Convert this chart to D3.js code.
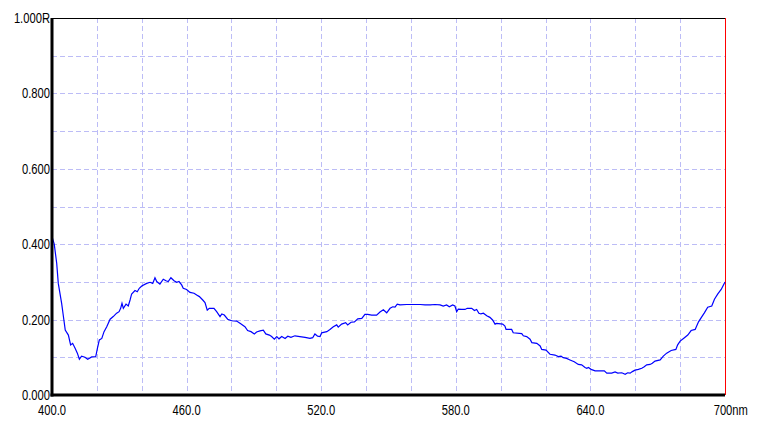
<!DOCTYPE html>
<html>
<head>
<meta charset="utf-8">
<script src="https://cdn.jsdelivr.net/npm/d3@7"></script>
<style>
  html, body { margin: 0; padding: 0; background: #ffffff; }
  svg { display: block; }
  .lbl { font-family: "Liberation Sans", Arial, sans-serif; font-size: 14px; fill: #000; }
</style>
</head>
<body>
<svg id="chart" width="777" height="431"></svg>
<script>
// ---- data ----
const wavelengths = [400,401,402.1,402.8,404.3,405.3,405.9,407.3,408.3,409.2,410.3,411.3,412.2,413.2,414.7,415.9,417.7,419.5,420.4,421.1,422.2,423.2,424.4,425.9,427.3,428.8,429.9,430.6,431.2,431.8,433,434,434.8,435.5,437,438,438.9,440,442.2,443.7,444.9,445.9,446.7,448.1,449.6,450.8,451.8,453,454.4,455.6,456.6,457.8,458.5,460,461.5,463.3,464.5,465.7,467.2,468.2,469.2,470.1,472.2,473.4,474.9,475.7,476.8,478.3,480.1,482.3,483.8,486,487.2,488.7,490.2,491.2,492.7,494.2,495.3,496.9,497.9,499.1,500.2,501.2,502.4,503.9,505.1,506.5,508.3,510.5,512.8,515,516.2,517.2,518.4,519.5,520.2,522.5,523.9,525.4,526.9,527.6,529.1,530.9,531.8,533.3,534.8,536.3,538.1,539.5,540.7,542.5,544.7,546.2,547.7,549.2,550.7,551.9,552.9,553.9,555.1,558.1,561.1,564.1,566.3,568.6,570.7,573,574.4,575.9,577.1,578.6,579.6,580.4,581.1,582.6,584.1,585.1,587.1,588.3,589.3,590.3,591.2,592.3,593.8,595.2,596.4,597.5,598.2,600.9,601.9,602.4,604.9,605.6,609.4,610.1,611.6,613.1,613.9,616.1,617.6,618.3,620.2,622,624.2,625.7,626.9,627.9,629.4,630.9,632.8,634.6,636.1,637.6,638.4,639.1,640.3,642.1,644.3,646.2,647.3,649.5,651,652.2,654,655.5,656.6,657.7,658.7,659.9,661.4,662.9,664,665.1,666.6,667.6,668.8,671.1,672.5,674,676,678.1,678.9,680,681.5,683.4,684.9,686.7,688.2,689.7,690.8,692.3,694.1,695.3,696.8,698.3,700];
const reflectance = [0.420,0.400,0.349,0.296,0.243,0.199,0.172,0.159,0.133,0.137,0.124,0.111,0.095,0.103,0.100,0.095,0.101,0.102,0.128,0.146,0.150,0.168,0.181,0.201,0.208,0.217,0.221,0.230,0.243,0.230,0.241,0.236,0.252,0.268,0.277,0.274,0.283,0.289,0.296,0.299,0.296,0.311,0.301,0.294,0.307,0.303,0.301,0.311,0.303,0.299,0.301,0.292,0.283,0.280,0.272,0.270,0.265,0.261,0.252,0.245,0.225,0.230,0.230,0.221,0.208,0.215,0.212,0.201,0.197,0.196,0.190,0.181,0.171,0.168,0.162,0.167,0.170,0.172,0.162,0.159,0.155,0.148,0.155,0.149,0.155,0.150,0.156,0.153,0.157,0.155,0.153,0.150,0.152,0.162,0.156,0.155,0.165,0.168,0.174,0.181,0.186,0.180,0.188,0.192,0.186,0.193,0.194,0.202,0.203,0.214,0.214,0.212,0.212,0.220,0.226,0.218,0.230,0.234,0.233,0.241,0.239,0.240,0.240,0.240,0.239,0.239,0.240,0.239,0.236,0.239,0.234,0.239,0.236,0.221,0.228,0.227,0.227,0.230,0.230,0.224,0.227,0.217,0.215,0.217,0.210,0.206,0.199,0.188,0.190,0.188,0.183,0.174,0.174,0.165,0.163,0.157,0.155,0.148,0.139,0.137,0.130,0.121,0.119,0.108,0.106,0.102,0.103,0.099,0.097,0.093,0.088,0.081,0.080,0.073,0.071,0.073,0.068,0.064,0.064,0.064,0.058,0.058,0.061,0.058,0.059,0.055,0.059,0.058,0.062,0.066,0.068,0.071,0.075,0.080,0.081,0.084,0.090,0.093,0.103,0.111,0.118,0.121,0.133,0.143,0.150,0.159,0.171,0.174,0.194,0.208,0.218,0.233,0.236,0.254,0.268,0.280,0.300];
const xTickValues = [400, 460, 520, 580, 640, 700];
const xTickLabels = ["400.0", "460.0", "520.0", "580.0", "640.0", "700nm"];
const yTickValues = [0, 0.2, 0.4, 0.6, 0.8, 1.0];
const yTickLabels = ["0.000", "0.200", "0.400", "0.600", "0.800", "1.000R"];
const xGridValues = [420, 440, 460, 480, 500, 520, 540, 560, 580, 600, 620, 640, 660, 680];
const yGridValues = [0.1, 0.2, 0.3, 0.4, 0.5, 0.6, 0.7, 0.8, 0.9];

// ---- layout ----
const svg = d3.select("#chart");
const pLeft = 52, pRight = 725, pTop = 18, pBottom = 395;
const squeeze = 0.8;
const x = d3.scaleLinear().domain([400, 700]).range([pLeft, pRight]);
const y = d3.scaleLinear().domain([0, 1]).range([pBottom, pTop]);

svg.append("rect").attr("width", 777).attr("height", 431).attr("fill", "#ffffff");

// grid
const grid = svg.append("g").attr("stroke", "#bcbcf6").attr("stroke-width", 1)
  .attr("stroke-dasharray", "5,3").attr("shape-rendering", "crispEdges");
grid.selectAll("line.v").data(xGridValues).enter().append("line")
  .attr("x1", d => Math.round(x(d)) + 0.5).attr("x2", d => Math.round(x(d)) + 0.5)
  .attr("y1", pTop).attr("y2", pBottom);
grid.selectAll("line.h").data(yGridValues).enter().append("line")
  .attr("x1", pLeft).attr("x2", pRight)
  .attr("y1", d => Math.round(y(d)) + 0.5).attr("y2", d => Math.round(y(d)) + 0.5);

// frame
svg.append("line").attr("x1", pLeft).attr("x2", pRight).attr("y1", pTop + 0.5).attr("y2", pTop + 0.5)
  .attr("stroke", "#000").attr("stroke-width", 1).attr("shape-rendering", "crispEdges");
svg.append("line").attr("x1", pRight + 0.5).attr("x2", pRight + 0.5).attr("y1", pTop).attr("y2", pBottom)
  .attr("stroke", "#ff0000").attr("stroke-width", 1).attr("shape-rendering", "crispEdges");

// data line
const line = d3.line().x((d, i) => x(wavelengths[i])).y(d => y(d));
svg.append("path").datum(reflectance).attr("d", line)
  .attr("fill", "none").attr("stroke", "#0000ff").attr("stroke-width", 1.2);

// axes lines (thick)
svg.append("line").attr("x1", pLeft).attr("x2", pLeft).attr("y1", pTop).attr("y2", pBottom + 1.5)
  .attr("stroke", "#000").attr("stroke-width", 3);
svg.append("line").attr("x1", pLeft - 1.5).attr("x2", pRight).attr("y1", pBottom).attr("y2", pBottom)
  .attr("stroke", "#000").attr("stroke-width", 3);

function narrow(sel) {
  sel.each(function() {
    const w = this.getComputedTextLength();
    d3.select(this).attr("textLength", w * squeeze).attr("lengthAdjust", "spacingAndGlyphs");
  });
}

// y labels
svg.selectAll("text.yl").data(yTickValues).enter().append("text")
  .attr("class", "lbl").attr("text-anchor", "end")
  .attr("x", pLeft - 2).attr("y", d => y(d) + 5)
  .text((d, i) => yTickLabels[i])
  .call(narrow);

// x labels
const xl = svg.selectAll("text.xl").data(xTickValues).enter().append("text")
  .attr("class", "lbl").attr("text-anchor", "middle")
  .attr("x", d => x(d)).attr("y", pBottom + 20)
  .text((d, i) => xTickLabels[i]);
// last label: number centered on tick, unit appended
xl.filter((d, i) => i === xTickValues.length - 1).each(function(d) {
  const t = d3.select(this);
  t.text("700");
  const w = this.getComputedTextLength() * squeeze;
  t.text(xTickLabels[xTickLabels.length - 1]).attr("text-anchor", "start").attr("x", x(d) - w / 2 - 2);
});
xl.call(narrow);
</script>
</body>
</html>
